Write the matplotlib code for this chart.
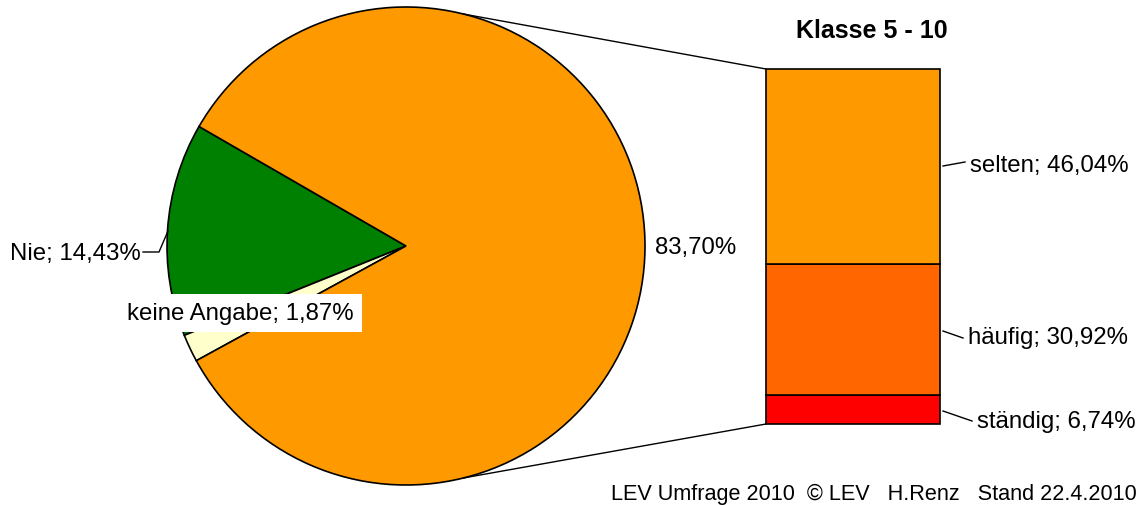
import matplotlib
matplotlib.use("Agg")
import matplotlib.pyplot as plt
import numpy as np

# pie data (order as drawn, counter clockwise)
pie_labels = ["Nie", "keine Angabe", ""]
pie_values = [14.43, 1.87, 83.70]
pie_colors = ["#008000", "#FFFFCC", "#FF9900"]

# bar-of-pie breakdown of the 83,70% slice
bar_labels = ["selten", "häufig", "ständig"]
bar_values = [46.04, 30.92, 6.74]
bar_colors = ["#FF9900", "#FF6600", "#FF0000"]

title = "Klasse 5 - 10"
footer = "LEV Umfrage 2010  © LEV   H.Renz   Stand 22.4.2010"

W, H = 1144, 506
plt.rcParams['font.family'] = ['Liberation Sans', 'DejaVu Sans']


def fmt(v):
    return f"{v:.2f}".replace(".", ",") + "%"


def Y(y):
    # pixel row (from top) -> data y
    return H - y


fig = plt.figure(figsize=(W / 100, H / 100), dpi=100)
ax = fig.add_axes([0, 0, 1, 1])

cx, cy, r = 406, Y(247), 239
ax.pie(pie_values, colors=pie_colors, startangle=150, counterclock=True,
       center=(cx, cy), radius=r,
       wedgeprops=dict(edgecolor="black", linewidth=1.2))

# stacked bar, selten on top
bx, bw = 853, 174
bar_top, bar_bot = Y(70), Y(425)
scale = (bar_top - bar_bot) / sum(bar_values)
bottom = bar_bot
for lab, val, col in zip(bar_labels[::-1], bar_values[::-1], bar_colors[::-1]):
    ax.bar(bx, val * scale, width=bw, bottom=bottom, color=col,
           edgecolor="black", linewidth=1.2, zorder=3)
    bottom += val * scale

# connector lines pie -> bar
a = np.deg2rad(76)
ax.plot([cx + r * np.cos(a), bx - bw / 2], [cy + r * np.sin(a), bar_top],
        color="black", lw=1)
ax.plot([cx + r * np.cos(-a), bx - bw / 2], [cy + r * np.sin(-a), bar_bot],
        color="black", lw=1)

fs = 17.3
# pie labels
ax.plot([168, 159, 143], [Y(232), Y(253), Y(253)], color="black", lw=1)
ax.text(141, Y(254), f"{pie_labels[0]}; {fmt(pie_values[0])}", ha="right",
        va="center", fontsize=fs)
ax.text(240, Y(314), f"{pie_labels[1]}; {fmt(pie_values[1])}", ha="center",
        va="center", fontsize=fs,
        bbox=dict(facecolor="white", edgecolor="none", pad=6))
ax.text(655, Y(248), fmt(pie_values[2]), ha="left", va="center", fontsize=fs)

# bar labels
leaders = [((943, 167), (965, 163), (970, 166)),
           ((943, 332), (963, 339), (968, 338)),
           ((943, 412), (972, 422), (977, 422))]
for lab, val, (p0, p1, pt) in zip(bar_labels, bar_values, leaders):
    ax.plot([p0[0], p1[0]], [Y(p0[1]), Y(p1[1])], color="black", lw=1)
    ax.text(pt[0], Y(pt[1]), f"{lab}; {fmt(val)}", ha="left", va="center",
            fontsize=fs)

ax.text(872, Y(31), title, ha="center", va="center", fontsize=18,
        fontweight="bold")
ax.text(1137, Y(494), footer, ha="right", va="center", fontsize=15.6)

ax.set_xlim(0, W)
ax.set_ylim(0, H)
ax.set_aspect("equal")
ax.axis("off")

fig.savefig("out.png", dpi=100)
